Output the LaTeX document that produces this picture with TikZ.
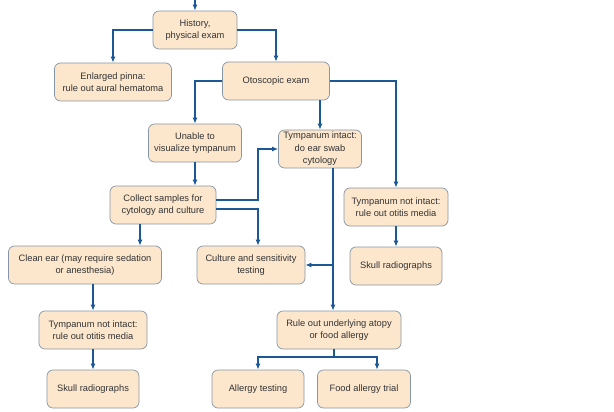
\documentclass[tikz,border=0pt]{standalone}
\usepackage{fontspec}
\setmainfont{Liberation Sans}
\usetikzlibrary{arrows.meta}
\definecolor{boxfill}{RGB}{252,231,205}
\definecolor{boxline}{RGB}{135,150,165}
\definecolor{arrblue}{RGB}{28,88,150}
\begin{document}
\begin{tikzpicture}[x=1pt, y=-1pt,
		box/.style={draw=boxline, fill=boxfill, rounded corners=6pt, line width=0.7pt, minimum height=38pt, inner sep=0pt, align=center, text=black!80, font=\fontsize{9.3}{12.5}\selectfont},
		arr/.style={draw=arrblue, line width=1.8pt, -{Latex[length=6pt,width=5pt]}}]
			\useasboundingbox (0,0) rectangle (614,412);
			\node[box, minimum width=84pt] (hist) at (195,30) {History,\\physical exam};
			\node[box, minimum width=117pt] (pinna) at (113,82) {Enlarged pinna:\\rule out aural hematoma};
			\node[box, minimum width=107pt] (oto) at (276,81) {Otoscopic exam};
			\node[box, minimum width=93pt] (unable) at (195,143) {Unable to\\visualize tympanum};
			\node[box, minimum width=83pt] (intact) at (320,149) {Tympanum intact:\\do ear swab\\cytology};
			\node[box, minimum width=104pt] (notintR) at (396,207) {Tympanum not intact:\\rule out otitis media};
			\node[box, minimum width=92pt] (skullR) at (396,266) {Skull radiographs};
			\node[box, minimum width=106pt] (collect) at (163,205) {Collect samples for\\cytology and culture};
			\node[box, minimum width=153pt] (clean) at (85,265) {Clean ear (may require sedation\\or anesthesia)};
			\node[box, minimum width=108pt] (culture) at (251,265) {Culture and sensitivity\\testing};
			\node[box, minimum width=108pt] (notintL) at (93,330) {Tympanum not intact:\\rule out otitis media};
			\node[box, minimum width=92pt] (skullL) at (93,389) {Skull radiographs};
			\node[box, minimum width=124pt] (rule) at (339,330) {Rule out underlying atopy\\or food allergy};
			\node[box, minimum width=92pt] (allergy) at (258,389) {Allergy testing};
			\node[box, minimum width=93pt] (food) at (364,389) {Food allergy trial};
			\coordinate (start) at (195,0);
			\draw[arr] (start) -- (hist.north);
			\draw[arr] (hist.west) -| (pinna.north);
			\draw[arr] (hist.east) -| (oto.north);
			\draw[arr] (oto.west) -| (unable.north);
			\draw[arr] (intact.north |- oto.south) -- (intact.north);
			\draw[arr] (oto.east) -| (notintR.north);
			\draw[arr] (notintR.south) -- (skullR.north);
			\draw[arr] (unable.south) -- (unable.south |- collect.north);
			\draw[arr] ([yshift=5pt]collect.east) -- ++(42,0) |- (intact.west);
			\draw[arr] ([yshift=-4pt]collect.east) -| ([xshift=7pt]culture.north);
			\draw[arr] ([xshift=-23pt]collect.south) -- ([xshift=-23pt]collect.south |- clean.north);
			\draw[arr] ([xshift=13pt]intact.south) -- ([xshift=13pt]intact.south |- rule.north);
			\draw[arr] ([xshift=13pt]intact.south |- culture.east) -- (culture.east);
			\draw[arr] (notintL.north |- clean.south) -- (notintL.north);
			\draw[arr] (notintL.south) -- (skullL.north);
			\draw[arr] ([xshift=-5pt]rule.south) -- ++(0,8) -| (allergy.north);
			\draw[arr] ([xshift=-5pt]rule.south) -- ++(0,8) -| ([xshift=13pt]food.north);
		\end{tikzpicture}
\end{document}
